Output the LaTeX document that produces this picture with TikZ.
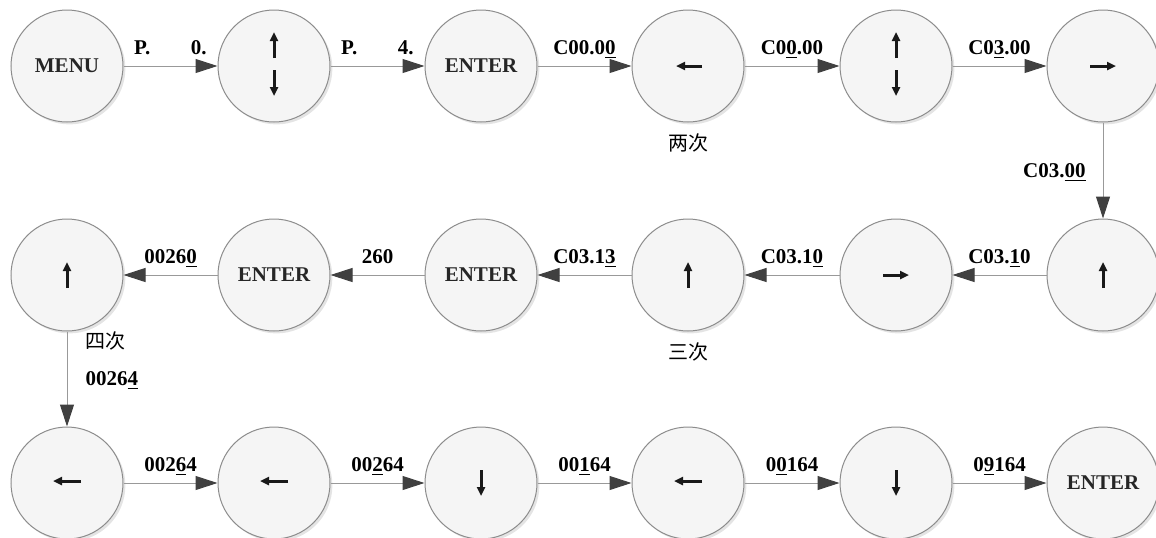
\documentclass[tikz,border=0pt]{standalone}
\usepackage{fontspec}
\setmainfont{Liberation Serif}
\newfontfamily\cjk{Noto Sans CJK SC}
\usetikzlibrary{arrows.meta,positioning,shadows}
\newcommand{\keyfont}{\fontsize{10.5pt}{12pt}\selectfont\bfseries}

\tikzset{
  keycircle/.style={circle, draw=black!45, line width=0.5pt, fill=gray!8, minimum size=56pt, inner sep=0pt,
    font=\keyfont, text=black!85,
    drop shadow={shadow xshift=1.2pt, shadow yshift=-1.2pt, fill=gray!60, opacity=0.35}},
  flow/.style={draw=black!40, line width=0.5pt, -{Triangle[length=11pt,width=7pt,color=black!75]}},
  edgelabel/.style={above=5.5pt, inner sep=0pt, font=\keyfont, text depth=0pt},
  keyarrow/.style={line width=1.5pt, black!90, -{Triangle[length=4.5pt,width=4pt]}},
  note/.style={font=\cjk\fontsize{10pt}{12pt}\selectfont, inner sep=0pt},
}

\begin{document}
\begin{tikzpicture}[x=0.5pt, y=-0.5pt]
        \useasboundingbox (0,0) rectangle (1156,537);
        % first row
        \node[keycircle] (r1a) at (67,66) {MENU};
        \node[keycircle] (r1b) at (274,66) {};
        \node[keycircle] (r1c) at (481,66) {ENTER};
        \node[keycircle] (r1d) at (688,66) {};
        \node[keycircle] (r1e) at (896,66) {};
        \node[keycircle] (r1f) at (1103,66) {};
        % second row
        \node[keycircle] (r2a) at (67,275) {};
        \node[keycircle] (r2b) at (274,275) {ENTER};
        \node[keycircle] (r2c) at (481,275) {ENTER};
        \node[keycircle] (r2d) at (688,275) {};
        \node[keycircle] (r2e) at (896,275) {};
        \node[keycircle] (r2f) at (1103,275) {};
        % third row
        \node[keycircle] (r3a) at (67,483) {};
        \node[keycircle] (r3b) at (274,483) {};
        \node[keycircle] (r3c) at (481,483) {};
        \node[keycircle] (r3d) at (688,483) {};
        \node[keycircle] (r3e) at (896,483) {};
        \node[keycircle] (r3f) at (1103,483) {ENTER};
        % key arrows inside the circles
        \draw[keyarrow] ([yshift=4pt]r1b.center) -- ([yshift=17pt]r1b.center);
        \draw[keyarrow] ([yshift=-2pt]r1b.center) -- ([yshift=-15pt]r1b.center);
        \draw[keyarrow] ([xshift=7pt]r1d.center) -- ([xshift=-6pt]r1d.center);
        \draw[keyarrow] ([yshift=4pt]r1e.center) -- ([yshift=17pt]r1e.center);
        \draw[keyarrow] ([yshift=-2pt]r1e.center) -- ([yshift=-15pt]r1e.center);
        \draw[keyarrow] ([xshift=-6.5pt]r1f.center) -- ([xshift=6.5pt]r1f.center);
        \draw[keyarrow] ([yshift=-6.5pt]r2a.center) -- ([yshift=6.5pt]r2a.center);
        \draw[keyarrow] ([yshift=-6.5pt]r2d.center) -- ([yshift=6.5pt]r2d.center);
        \draw[keyarrow] ([xshift=-6.5pt]r2e.center) -- ([xshift=6.5pt]r2e.center);
        \draw[keyarrow] ([yshift=-6.5pt]r2f.center) -- ([yshift=6.5pt]r2f.center);
        \draw[keyarrow] ([xshift=7pt,yshift=1pt]r3a.center) -- ([xshift=-7pt,yshift=1pt]r3a.center);
        \draw[keyarrow] ([xshift=7pt,yshift=1pt]r3b.center) -- ([xshift=-7pt,yshift=1pt]r3b.center);
        \draw[keyarrow] ([yshift=6.5pt]r3c.center) -- ([yshift=-6.5pt]r3c.center);
        \draw[keyarrow] ([xshift=7pt,yshift=1pt]r3d.center) -- ([xshift=-7pt,yshift=1pt]r3d.center);
        \draw[keyarrow] ([yshift=6.5pt]r3e.center) -- ([yshift=-6.5pt]r3e.center);
        % connectors
        \draw[flow] (r1a) -- node[edgelabel, pos=0.2] {P.} node[edgelabel, pos=0.8] {0.} (r1b);
        \draw[flow] (r1b) -- node[edgelabel, pos=0.2] {P.} node[edgelabel, pos=0.8] {4.} (r1c);
        \draw[flow] (r1c) -- node[edgelabel] {C00.0\underline{0}} (r1d);
        \draw[flow] (r1d) -- node[edgelabel] {C0\underline{0}.00} (r1e);
        \draw[flow] (r1e) -- node[edgelabel] {C0\underline{3}.00} (r1f);
        \draw[flow] (r1f) -- node[edgelabel, above=0pt, left=8.5pt] {C03.\underline{00}} (r2f);
        \draw[flow] (r2f) -- node[edgelabel] {C03.\underline{1}0} (r2e);
        \draw[flow] (r2e) -- node[edgelabel] {C03.1\underline{0}} (r2d);
        \draw[flow] (r2d) -- node[edgelabel] {C03.1\underline{3}} (r2c);
        \draw[flow] (r2c) -- node[edgelabel] {260} (r2b);
        \draw[flow] (r2b) -- node[edgelabel] {0026\underline{0}} (r2a);
        \draw[flow] (r2a) -- node[edgelabel, above=0pt, right=9pt] {0026\underline{4}} (r3a);
        \draw[flow] (r3a) -- node[edgelabel] {002\underline{6}4} (r3b);
        \draw[flow] (r3b) -- node[edgelabel] {00\underline{2}64} (r3c);
        \draw[flow] (r3c) -- node[edgelabel] {00\underline{1}64} (r3d);
        \draw[flow] (r3d) -- node[edgelabel] {0\underline{0}164} (r3e);
        \draw[flow] (r3e) -- node[edgelabel] {0\underline{9}164} (r3f);
        % repeat counts
        \node[note] (twice) at (688,143) {两次};
        \node[note] (thrice) at (688,352) {三次};
        \node[note, anchor=west] (fourtimes) at (85,341) {四次};
\end{tikzpicture}
\end{document}
